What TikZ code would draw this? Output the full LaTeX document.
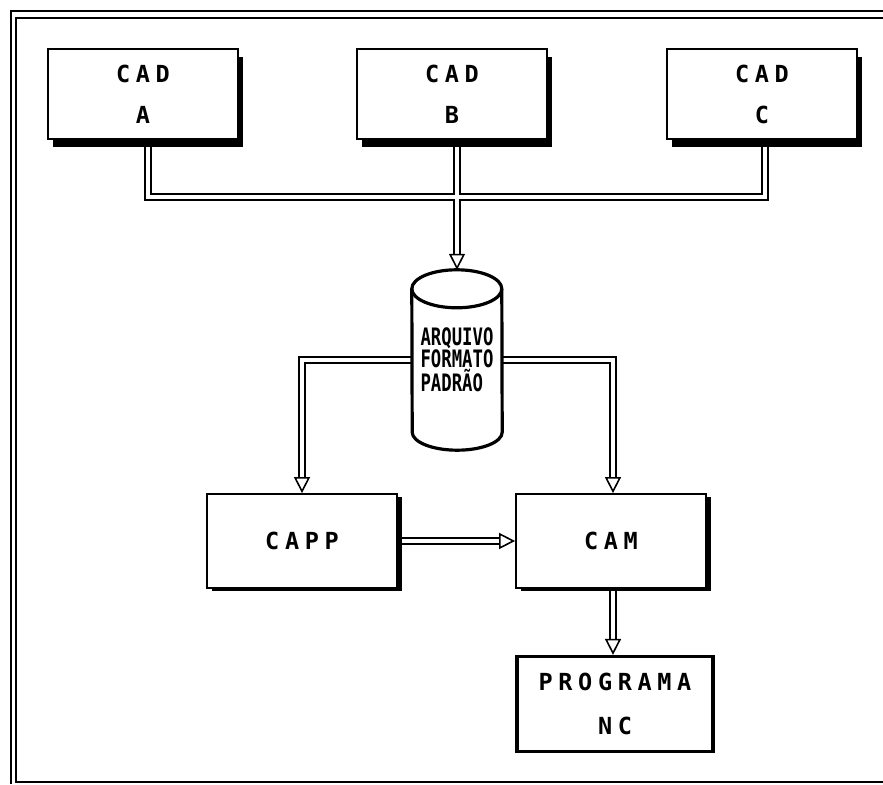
\documentclass[tikz,border=0pt]{standalone}
\usepackage{fontspec}
\newfontfamily\boxfont[LetterSpace=24]{DejaVu Sans Mono}
\newfontfamily\dbfont[FakeStretch=0.72]{DejaVu Sans Mono}
\usetikzlibrary{arrows.meta,shadows,calc}
\pgfdeclarelayer{bg}
\pgfsetlayers{bg,main}
\begin{document}
\begin{tikzpicture}[x=1pt,y=1pt,
  box/.style={draw, line width=1.8pt, fill=white, minimum width=190pt,
    minimum height=90pt, inner sep=0pt, align=center,
    font=\boxfont\bfseries\fontsize{23.5}{41}\selectfont},
  cadbox/.style={box, drop shadow={shadow xshift=5pt, shadow yshift=-8pt,
    opacity=1, fill=black}},
  procbox/.style={box, minimum height=94pt, drop shadow={shadow xshift=5pt,
    shadow yshift=-3pt, opacity=1, fill=black}},
  outbox/.style={box, line width=3.2pt, minimum width=196pt, minimum height=95pt,
    font=\boxfont\bfseries\fontsize{23.5}{44}\selectfont},
  dbl/.style={draw, line width=2pt, double=white, double distance=3.4pt},
  dblthick/.style={draw, line width=2.6pt, double=white, double distance=3.6pt},
  tip/.style={-{Triangle[open, length=16pt, width=16pt, line width=1.6pt]}},
  cyl/.style={line width=3.2pt, fill=white},
  frame/.style={line width=2pt}
]
\useasboundingbox (0,0) rectangle (883,784);

% page frame
\draw[frame] (883,773) -- (11,773) -- (11,0);
\draw[frame] (883,766) -- (16,766) -- (16,2) -- (883,2);

% boxes
\node[cadbox] (cadA) at (143,690) {CAD\\A};
\node[cadbox] (cadB) at (452,690) {CAD\\B};
\node[cadbox] (cadC) at (762,690) {CAD\\C};
\node[draw=none, minimum width=90pt, minimum height=180pt] (db) at (457,424) {};
\node[procbox] (capp) at (302,243) {CAPP};
\node[procbox] (cam) at (611,243) {CAM};
\node[outbox] (prog) at (615,80) {PROGRAMA\\NC};
\coordinate (bus) at (457,587);

% database cylinder
\draw[cyl] ($(db.north west)+(0,-19)$)
  arc[start angle=180, end angle=0, x radius=45, y radius=19]
  -- ($(db.south east)+(0,18)$)
  arc[start angle=0, end angle=-180, x radius=45, y radius=18]
  -- cycle;
\draw[cyl, fill=none] ($(db.north west)+(0,-19)$)
  arc[start angle=180, end angle=360, x radius=45, y radius=19];
\node[font=\dbfont\bfseries\fontsize{24}{19.5}\selectfont, align=left,
  inner sep=0pt] (dbtext) at (457,424) {ARQUIVO\\FORMATO\\PADRÃO};

% connectors
\begin{pgfonlayer}{bg}
\draw[dbl, tip] ([xshift=5pt]cadA.south) |- (bus) -| ([xshift=3pt]cadC.south)
  ([xshift=5pt]cadB.south) -- (db.north);
\draw[dbl, tip] (db.west) -| (capp.north);
\draw[dbl, tip] (db.east) -| ([xshift=2pt]cam.north);
\draw[dblthick, tip] (capp.east) -- (cam.west);
\draw[dbl, tip] ([xshift=2pt]cam.south) -- ([xshift=-2pt]prog.north);
\end{pgfonlayer}
\end{tikzpicture}
\end{document}
